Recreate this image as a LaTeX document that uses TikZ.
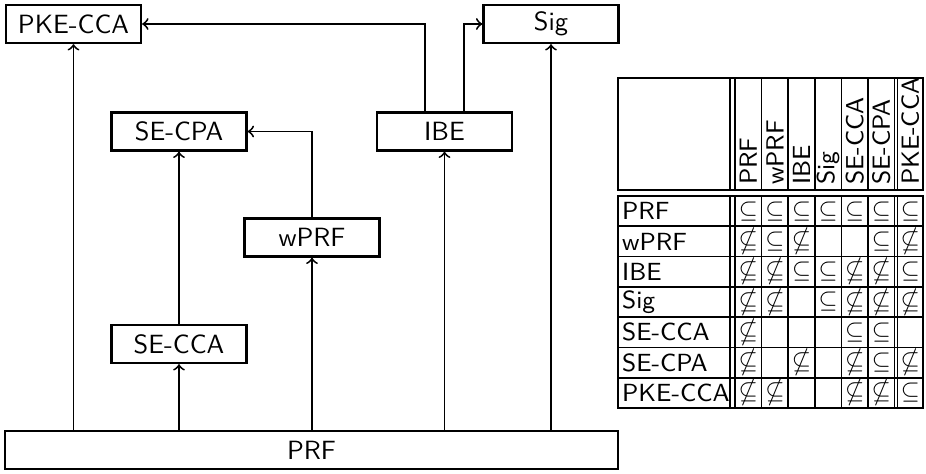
\documentclass[tikz,border=0pt]{standalone}
\usepackage{amssymb}
\newcommand\syms{$\subseteq$}
\newcommand\symn{$\nsubseteq$}
\newcommand\syme{}
\begin{document}
\begin{tikzpicture}[x=0.379pt,y=-0.379pt,font=\sffamily,
  box/.style={draw,line width=0.85pt,minimum width=51.2pt,minimum height=14.4pt,inner sep=0pt},
  conn/.style={line width=0.7pt,->},
  frame/.style={line width=1.1pt},
  rule/.style={line width=0.65pt},
  tabtext/.style={font=\sffamily\fontsize{9.4}{11}\selectfont}]
\useasboundingbox (0,0) rectangle (926,473);
% diagram
\node[box] (pke) at (73.5,24) {PKE-CCA};
\node[box] (sig) at (551,24) {Sig};
\node[box] (secpa) at (179,131.5) {SE-CPA};
\node[box] (ibe) at (444.5,131.5) {IBE};
\node[box] (wprf) at (312,237.5) {wPRF};
\node[box] (secca) at (179,344) {SE-CCA};
\node[box,minimum width=232.3pt] (prf) at (311.5,450) {PRF};
\draw[conn] (prf.north -| pke) -- (pke);
\draw[conn] (prf.north -| secca) -- (secca);
\draw[conn] (prf.north -| wprf) -- (wprf);
\draw[conn] (prf.north -| ibe) -- (ibe);
\draw[conn] (prf.north -| sig) -- (sig);
\draw[conn] (secca) -- (secpa);
\draw[conn] (wprf.north) |- (secpa.east);
\draw[conn] ([xshift=-7.4pt]ibe.north) |- (pke.east);
\draw[conn] ([xshift=7.4pt]ibe.north) |- (sig.west);
% table
\draw[frame] (618,78) rectangle (923,190);
\draw[frame] (618,196) rectangle (923,408);
\foreach \vx in {730,735,761.6,788.2,814.8,841.4,868,894.6,897.6}{
  \draw[rule] (\vx,78) -- (\vx,190);
  \draw[rule] (\vx,196) -- (\vx,408);
}
\foreach \r in {1,...,6}{
  \draw[rule] (618,196+30.29*\r) -- (923,196+30.29*\r);
}
\foreach \lab [count=\c] in {PRF,wPRF,IBE,Sig,SE-CCA,SE-CPA,PKE-CCA}{
  \pgfmathsetmacro\cx{\c<7 ? 735+26.6*(\c-0.5) : 910.3}
  \pgfmathsetmacro\ry{196+30.29*(\c-0.5)}
  \node[tabtext,rotate=90,anchor=west,inner sep=1pt] (h\c) at (\cx,188) {\lab};
  \node[tabtext,anchor=west,inner sep=1pt] (r\c) at (619,\ry) {\lab};
}
\foreach \row [count=\r] in {{s,s,s,s,s,s,s},{n,s,n,e,e,s,n},{n,n,s,s,n,n,s},{n,n,e,s,n,n,n},{n,e,e,e,s,s,e},{n,e,n,e,n,s,n},{n,n,e,e,n,n,s}}{
  \foreach \v [count=\c] in \row {
    \pgfmathsetmacro\cx{\c<7 ? 735+26.6*(\c-0.5) : 910.3}
    \pgfmathsetmacro\ry{196+30.29*(\r-0.5)}
    \node[tabtext,inner sep=0pt] (m\r-\c) at (\cx,\ry) {\csname sym\v\endcsname};
  }
}
\end{tikzpicture}
\end{document}
